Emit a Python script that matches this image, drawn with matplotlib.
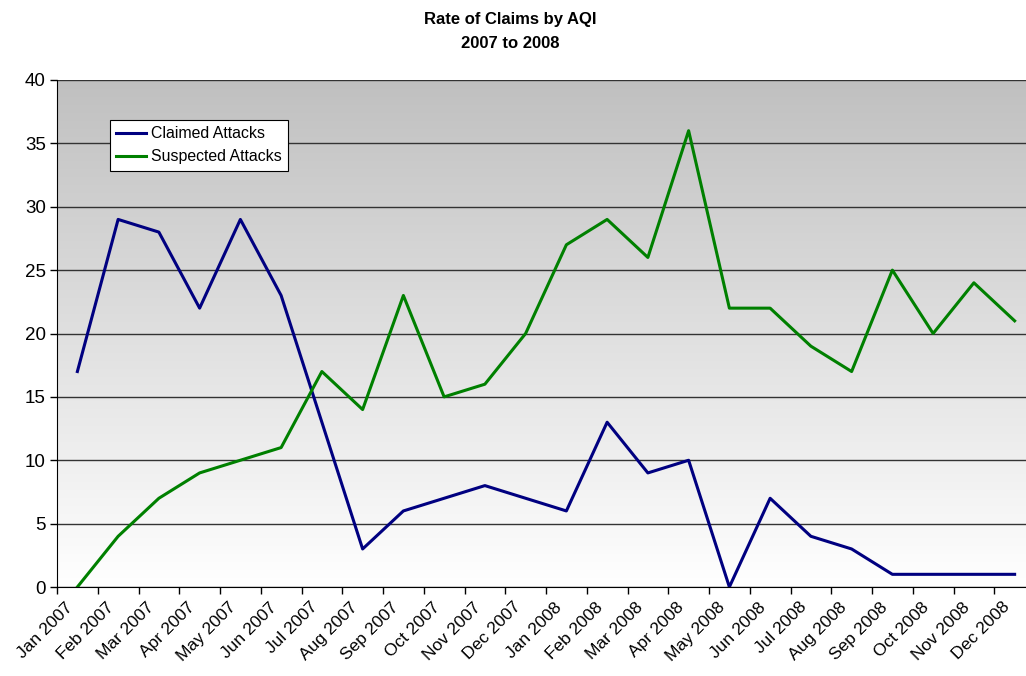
import numpy as np
import matplotlib.pyplot as plt
from matplotlib.colors import LinearSegmentedColormap

plt.rcParams['font.family'] = ['Liberation Sans', 'DejaVu Sans']

months = ['Jan 2007', 'Feb 2007', 'Mar 2007', 'Apr 2007', 'May 2007', 'Jun 2007',
          'Jul 2007', 'Aug 2007', 'Sep 2007', 'Oct 2007', 'Nov 2007', 'Dec 2007',
          'Jan 2008', 'Feb 2008', 'Mar 2008', 'Apr 2008', 'May 2008', 'Jun 2008',
          'Jul 2008', 'Aug 2008', 'Sep 2008', 'Oct 2008', 'Nov 2008', 'Dec 2008']
claimed = [17, 29, 28, 22, 29, 23, 13, 3, 6, 7, 8, 7,
           6, 13, 9, 10, 0, 7, 4, 3, 1, 1, 1, 1]
suspected = [0, 4, 7, 9, 10, 11, 17, 14, 23, 15, 16, 20,
             27, 29, 26, 36, 22, 22, 19, 17, 25, 20, 24, 21]

fig = plt.figure(figsize=(10.26, 6.76), dpi=100)
ax = fig.add_axes([57 / 1026, 1 - 587 / 676, 978 / 1026, 507 / 676])

# gray-to-white gradient background
grad = np.linspace(0, 1, 256).reshape(-1, 1)
cmap = LinearSegmentedColormap.from_list('bg', ['#ffffff', '#c0c0c0'])
ax.imshow(grad, cmap=cmap, aspect='auto', extent=[0, 24, 0, 40],
          origin='lower', zorder=0)

x = np.arange(len(months)) + 0.5
ax.plot(x, claimed, color='#000080', lw=2.2, label='Claimed Attacks', zorder=3)
ax.plot(x, suspected, color='#008000', lw=2.2, label='Suspected Attacks', zorder=3)

ax.set_xlim(0, 24)
ax.set_ylim(0, 40)
ax.set_yticks(np.arange(0, 41, 5))
ax.yaxis.grid(True, color='#333333', lw=1)
for gl in ax.get_ygridlines():
    gl.set_zorder(1)

ax.set_xticks(np.arange(0, 25))
ax.set_xticklabels([])
ax.set_xticks(x - 0.3, minor=True)
ax.set_xticklabels(months, minor=True, rotation=45, ha='right', va='top',
                   rotation_mode='anchor', fontsize=12.5)
ax.tick_params(axis='x', which='minor', length=0, pad=9)
ax.tick_params(axis='x', which='major', length=5, direction='out', width=1)
ax.tick_params(axis='y', length=5, direction='out', width=1, labelsize=13.5, pad=3)

for s in ['top', 'right']:
    ax.spines[s].set_visible(False)
ax.spines['left'].set_color('black')
ax.spines['bottom'].set_color('black')

leg = ax.legend(loc='upper left', bbox_to_anchor=(53 / 978, 1 - 40 / 507),
                borderaxespad=0, fontsize=11.4, frameon=True, fancybox=False,
                handlelength=1.9, handletextpad=0.3, borderpad=0.4,
                labelspacing=0.5)
leg.get_frame().set_edgecolor('black')
leg.get_frame().set_linewidth(0.8)
leg.get_frame().set_facecolor('white')
leg.get_frame().set_alpha(1)

fig.text(0.497, 1 - 12 / 676, 'Rate of Claims by AQI\n2007 to 2008', ha='center',
         va='top', fontsize=12, fontweight='bold', linespacing=1.75)

fig.savefig('out.png', dpi=100)
